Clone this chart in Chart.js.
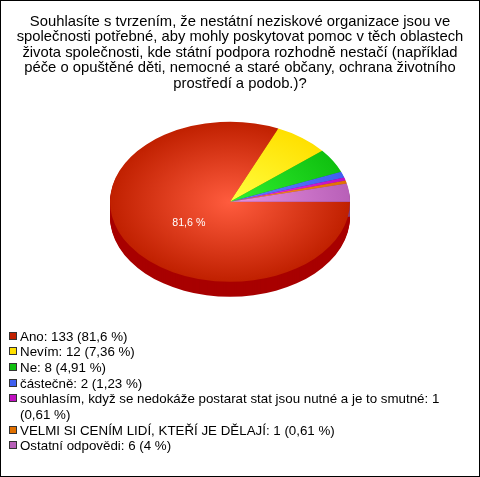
<!DOCTYPE html>
<html lang="cs">
<head>
<meta charset="utf-8">
<title>Souhlasíte s tvrzením</title>
<script src="https://cdn.jsdelivr.net/npm/chart.js@4/dist/chart.umd.min.js"></script>
<style>
    html, body { margin: 0; padding: 0; background: #fff; }
    #frame { position: relative; width: 480px; height: 477px; box-sizing: border-box; border: 1px solid #000; overflow: hidden; }
    #pieChart { position: absolute; left: -1px; top: -1px; }
    #legend { position: absolute; left: 7px; top: 327.5px; width: 442px; font: 13.33px/15.7px "Liberation Sans", Arial, sans-serif; color: #000; }
    .legend-item { position: relative; padding-left: 12px; }
    .legend-box { position: absolute; left: 1px; top: 3px; width: 8px; height: 8px; box-sizing: border-box; border: 1px solid #333; }
</style>
</head>
<body>
<div id="frame">
    <canvas id="pieChart" width="480" height="477"></canvas>
    <div id="legend"></div>
</div>
<script>
const titleLines = [
    'Souhlasíte s tvrzením, že nestátní neziskové organizace jsou ve',
    'společnosti potřebné, aby mohly poskytovat pomoc v těch oblastech',
    'života společnosti, kde státní podpora rozhodně nestačí (například',
    'péče o opuštěné děti, nemocné a staré občany, ochrana životního',
    'prostředí a podob.)?'
];
const categories = ['Ano', 'Nevím', 'Ne', 'částečně', 'souhlasím, když se nedokáže postarat stat jsou nutné a je to smutné', 'VELMI SI CENÍM LIDÍ, KTEŘÍ JE DĚLAJÍ', 'Ostatní odpovědi'];
const counts = [133, 12, 8, 2, 1, 1, 6];
const percents = ['81,6', '7,36', '4,91', '1,23', '0,61', '0,61', '4'];
const innerColors = ['#ff5c3e', '#ffff40', '#30f030', '#6080ff', '#f030f0', '#ff9030', '#e890e0'];
const outerColors = ['#c02000', '#ffe000', '#10c010', '#4060f0', '#c010c0', '#e07000', '#b860b8'];
const sideColors = ['#a80000', '#c0a000', '#009000', '#2040b0', '#900090', '#a05000', '#804080'];
const legendColors = ['#c02000', '#ffe000', '#10c010', '#4060f0', '#c010c0', '#e07000', '#b860b8'];

const PIE_RADIUS = 120;
const SQUASH = 80 / 120;
const DEPTH = 15;

// squash the round pie into an ellipse and put the side wall under it
const tiltPlugin = {
    id: 'tilt',
    afterLayout(chart) {
        // title stays centred on the whole canvas, the pie sits left of that
        chart.titleBlock.left = 0;
        chart.titleBlock.right = chart.width;
    },
    beforeDatasetsDraw(chart) {
        const ctx = chart.ctx;
        const arcs = chart.getDatasetMeta(0).data;
        const cx = arcs[0].x;
        const cy = arcs[0].y;
        ctx.save();
        ctx.translate(cx, cy);
        ctx.scale(1, SQUASH);
        ctx.translate(-cx, -cy);
        arcs.forEach((arc, i) => {
            ctx.fillStyle = sideColors[i];
            for (let d = DEPTH; d > 0; d--) {
                ctx.beginPath();
                ctx.moveTo(cx, cy + d / SQUASH);
                ctx.arc(cx, cy + d / SQUASH, arc.outerRadius, arc.startAngle, arc.endAngle);
                ctx.closePath();
                ctx.fill();
            }
        });
    },
    afterDatasetsDraw(chart) {
        const ctx = chart.ctx;
        ctx.restore();
        // value label on the big slice only
        const arc = chart.getDatasetMeta(0).data[0];
        const mid = (arc.startAngle + arc.endAngle) / 2;
        const r = arc.outerRadius * 0.41;
        ctx.save();
        ctx.fillStyle = '#fff';
        ctx.font = '10.67px "Liberation Sans", Arial, sans-serif';
        ctx.textAlign = 'center';
        ctx.textBaseline = 'middle';
        ctx.fillText(percents[0] + ' %', arc.x + Math.cos(mid) * r, arc.y + Math.sin(mid) * r * 0.8);
        ctx.restore();
    }
};

function sliceGradient(context) {
    const chart = context.chart;
    const area = chart.chartArea;
    if (!area) return outerColors[context.dataIndex];
    const cx = (area.left + area.right) / 2;
    const cy = (area.top + area.bottom) / 2;
    const gradient = chart.ctx.createRadialGradient(cx, cy, 0, cx, cy, PIE_RADIUS);
    gradient.addColorStop(0, innerColors[context.dataIndex]);
    gradient.addColorStop(1, outerColors[context.dataIndex]);
    return gradient;
}

new Chart(document.getElementById('pieChart'), {
    type: 'pie',
    data: {
        labels: categories,
        datasets: [{
            data: counts,
            backgroundColor: sliceGradient,
            borderWidth: 0,
            clip: false
        }]
    },
    options: {
        responsive: false,
        animation: false,
        rotation: 90,
        radius: PIE_RADIUS,
        layout: { padding: { left: 0, right: 20, top: 0, bottom: 175 } },
        plugins: {
            legend: { display: false },
            tooltip: { enabled: false },
            title: {
                display: true,
                text: titleLines,
                color: '#000',
                font: { family: '"Liberation Sans", Arial, sans-serif', size: 14.8, weight: 'normal', lineHeight: 1.05 },
                padding: { top: 14, bottom: 10 }
            }
        }
    },
    plugins: [tiltPlugin]
});

document.getElementById('legend').innerHTML = categories.map((name, i) => `
    <div class="legend-item">
        <span class="legend-box" style="background:${legendColors[i]}"></span>${name}: ${counts[i]} (${percents[i]} %)
    </div>`).join('');
</script>
</body>
</html>
